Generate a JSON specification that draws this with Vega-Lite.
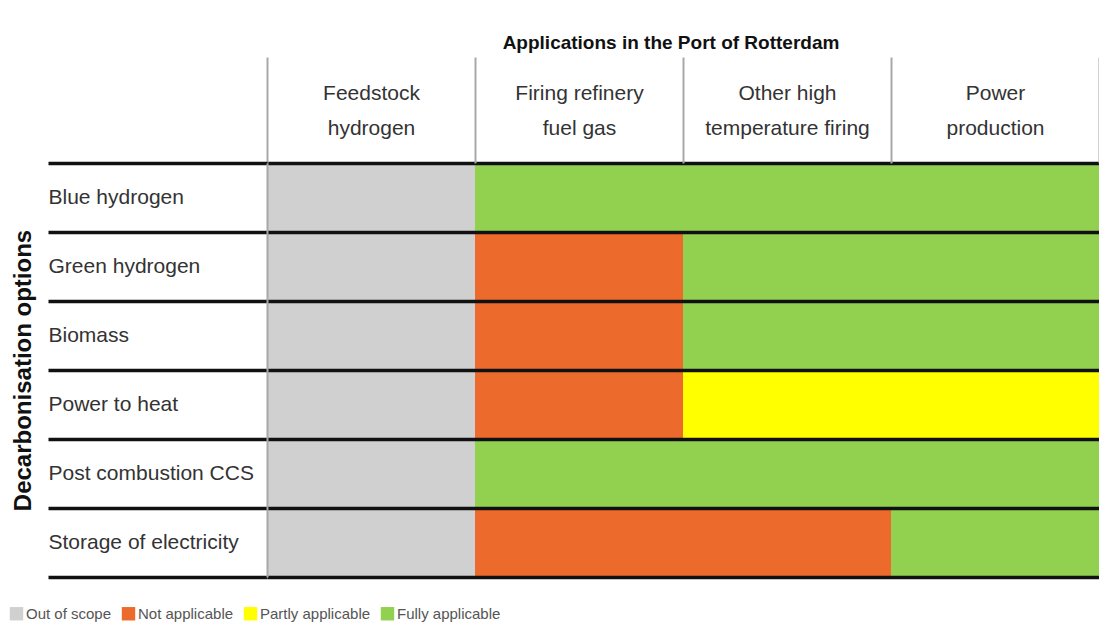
{
  "$schema": "https://vega.github.io/schema/vega-lite/v6.json",
  "width": 832,
  "height": 414,
  "autosize": {"type": "none"},
  "padding": {"left": 267, "top": 163, "right": 0, "bottom": 51},
  "background": "white",
  "title": {
    "text": "Applications in the Port of Rotterdam",
    "anchor": "middle",
    "dx": -12,
    "offset": 3,
    "font": "Liberation Sans",
    "fontSize": 19,
    "fontWeight": "bold",
    "color": "#111111"
  },
  "data": {
    "values": [
      {"option": "Blue hydrogen", "application": "Feedstock hydrogen", "status": "Out of scope"},
      {"option": "Blue hydrogen", "application": "Firing refinery fuel gas", "status": "Fully applicable"},
      {"option": "Blue hydrogen", "application": "Other high temperature firing", "status": "Fully applicable"},
      {"option": "Blue hydrogen", "application": "Power production", "status": "Fully applicable"},
      {"option": "Green hydrogen", "application": "Feedstock hydrogen", "status": "Out of scope"},
      {"option": "Green hydrogen", "application": "Firing refinery fuel gas", "status": "Not applicable"},
      {"option": "Green hydrogen", "application": "Other high temperature firing", "status": "Fully applicable"},
      {"option": "Green hydrogen", "application": "Power production", "status": "Fully applicable"},
      {"option": "Biomass", "application": "Feedstock hydrogen", "status": "Out of scope"},
      {"option": "Biomass", "application": "Firing refinery fuel gas", "status": "Not applicable"},
      {"option": "Biomass", "application": "Other high temperature firing", "status": "Fully applicable"},
      {"option": "Biomass", "application": "Power production", "status": "Fully applicable"},
      {"option": "Power to heat", "application": "Feedstock hydrogen", "status": "Out of scope"},
      {"option": "Power to heat", "application": "Firing refinery fuel gas", "status": "Not applicable"},
      {"option": "Power to heat", "application": "Other high temperature firing", "status": "Partly applicable"},
      {"option": "Power to heat", "application": "Power production", "status": "Partly applicable"},
      {"option": "Post combustion CCS", "application": "Feedstock hydrogen", "status": "Out of scope"},
      {"option": "Post combustion CCS", "application": "Firing refinery fuel gas", "status": "Fully applicable"},
      {"option": "Post combustion CCS", "application": "Other high temperature firing", "status": "Fully applicable"},
      {"option": "Post combustion CCS", "application": "Power production", "status": "Fully applicable"},
      {"option": "Storage of electricity", "application": "Feedstock hydrogen", "status": "Out of scope"},
      {"option": "Storage of electricity", "application": "Firing refinery fuel gas", "status": "Not applicable"},
      {"option": "Storage of electricity", "application": "Other high temperature firing", "status": "Not applicable"},
      {"option": "Storage of electricity", "application": "Power production", "status": "Fully applicable"}
    ]
  },
  "mark": {"type": "rect"},
  "encoding": {
    "x": {
      "field": "application",
      "type": "nominal",
      "sort": ["Feedstock hydrogen", "Firing refinery fuel gas", "Other high temperature firing", "Power production"],
      "scale": {"paddingInner": 0, "paddingOuter": 0},
      "axis": {
        "orient": "top",
        "title": null,
        "domain": false,
        "grid": false,
        "ticks": true,
        "tickBand": "extent",
        "tickSize": 106,
        "tickWidth": 2,
        "tickColor": "#a8a8a8",
        "labelAngle": 0,
        "labelAlign": "center",
        "labelBaseline": "middle",
        "labelLineHeight": 35,
        "labelPadding": -36,
        "labelFont": "Liberation Sans",
        "labelFontSize": 21,
        "labelColor": "#333333",
        "labelLimit": 0,
        "labelOverlap": false,
        "labelExpr": "datum.label == 'Feedstock hydrogen' ? ['Feedstock', 'hydrogen'] : datum.label == 'Firing refinery fuel gas' ? ['Firing refinery', 'fuel gas'] : datum.label == 'Other high temperature firing' ? ['Other high', 'temperature firing'] : datum.label == 'Power production' ? ['Power', 'production'] : ''",
        "zindex": 1
      }
    },
    "y": {
      "field": "option",
      "type": "nominal",
      "sort": ["Blue hydrogen", "Green hydrogen", "Biomass", "Power to heat", "Post combustion CCS", "Storage of electricity"],
      "scale": {"paddingInner": 0, "paddingOuter": 0},
      "axis": {
        "orient": "left",
        "title": "Decarbonisation options",
        "titleFont": "Liberation Sans",
        "titleFontSize": 24,
        "titleFontWeight": "bold",
        "titleColor": "#111111",
        "titlePadding": 32,
        "domain": true,
        "domainColor": "#a8a8a8",
        "domainWidth": 2,
        "ticks": true,
        "tickBand": "extent",
        "tickSize": 219,
        "tickWidth": 3.5,
        "tickColor": "#111111",
        "grid": true,
        "gridColor": "#111111",
        "gridWidth": 3.5,
        "gridOpacity": 1,
        "labelAlign": "left",
        "labelPadding": 0,
        "labelFont": "Liberation Sans",
        "labelFontSize": 21,
        "labelColor": "#333333",
        "labelLimit": 0,
        "zindex": 1
      }
    },
    "color": {
      "field": "status",
      "type": "nominal",
      "scale": {
        "domain": ["Out of scope", "Not applicable", "Partly applicable", "Fully applicable"],
        "range": ["#d0d0d0", "#ec6b2c", "#ffff00", "#92d050"]
      },
      "legend": {
        "orient": "none",
        "legendX": -258,
        "legendY": 443,
        "direction": "horizontal",
        "title": null,
        "padding": 0,
        "symbolType": "square",
        "symbolSize": 180,
        "symbolStrokeWidth": 0,
        "symbolOpacity": 1,
        "labelFont": "Liberation Sans",
        "labelFontSize": 15,
        "labelColor": "#555555",
        "labelOffset": 2,
        "columnPadding": 9
      }
    }
  },
  "config": {"view": {"stroke": null}}
}
